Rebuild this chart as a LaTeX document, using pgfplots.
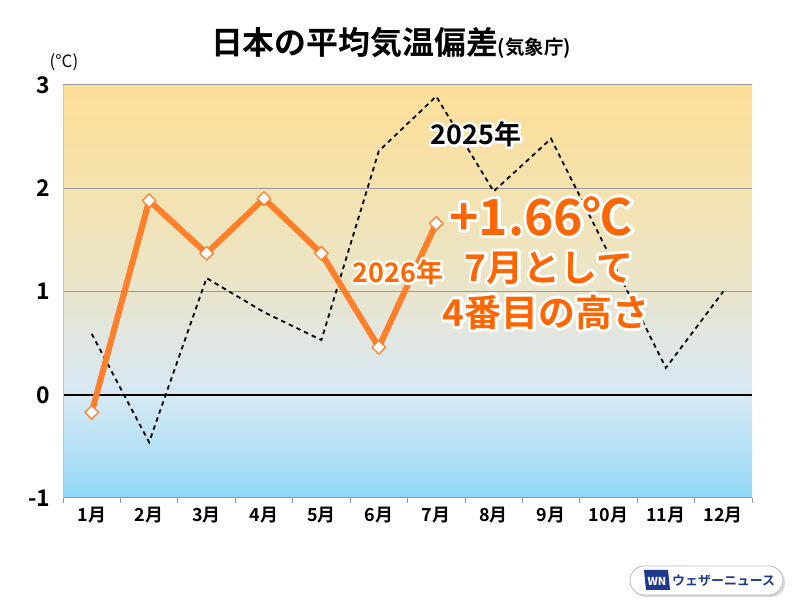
\documentclass[border=0pt]{standalone}
\usepackage{pgfplots}
\pgfplotsset{compat=1.18}
\usepackage{fontspec}
\setmainfont{Noto Sans CJK JP}[BoldFont={Noto Sans CJK JP Bold}]
\usetikzlibrary{calc}

\definecolor{orgline}{HTML}{FF7F2A}
\definecolor{orgtext}{HTML}{FF6600}
\definecolor{wnblue}{HTML}{1E3A8F}
\definecolor{gridgray}{HTML}{9A9A9A}
\definecolor{c0}{HTML}{8FD6F6}
\definecolor{c1}{HTML}{B7E1F5}
\definecolor{c2}{HTML}{D7E8F4}
\definecolor{c3}{HTML}{DFE6E4}
\definecolor{c4}{HTML}{E9E5CC}
\definecolor{c5}{HTML}{F4E2AE}
\definecolor{c6}{HTML}{FCDE98}
\pgfdeclareverticalshading{bgshade}{100bp}{color(0bp)=(c0);color(25bp)=(c0);color(31.25bp)=(c1);color(37.5bp)=(c2);color(43.75bp)=(c3);color(50bp)=(c4);color(62.5bp)=(c5);color(75bp)=(c6);color(100bp)=(c6)}

% text with a white outline: a stroked white copy under the coloured text
\newcommand\halo[5]{%
  \node[font=#2,text=white,inner sep=0pt] at (#1) {\special{pdf:literal direct 2 Tr #4 w 1 j 1 1 1 RG}#5\special{pdf:literal direct 0 Tr}};
  \node[font=#2,text=#3,inner sep=0pt] at (#1) {#5};}

\begin{document}
\begin{tikzpicture}
\useasboundingbox (0,0) rectangle (800bp,600bp);
\fill[white] (0,0) rectangle (800bp,600bp);
\begin{axis}[
  at={(63bp,102bp)}, anchor=south west,
  scale only axis, width=689bp, height=413bp,
  xmin=0.5, xmax=12.5, ymin=-1, ymax=3,
  axis background/.style={shading=bgshade},
  axis line style={draw=none},
  xtick={1,2,3,4,5,6,7,8,9,10,11,12},
  xticklabels={1月,2月,3月,4月,5月,6月,7月,8月,9月,10月,11月,12月},
  xtick pos=bottom,
  x tick label style={font=\bfseries\fontsize{18}{18}\selectfont, yshift=-6bp},
  ytick={-1,0,1,2,3},
  yticklabels={-1,0,1,2,3},
  ytick pos=left,
  y tick label style={font=\bfseries\fontsize{23}{23}\selectfont, xshift=-9bp},
  major tick length=0pt,
  ymajorgrids, grid style={gridgray, line width=1bp},
  extra y ticks={0}, extra y tick labels={},
  extra y tick style={grid style={black, line width=1.8bp}},
  extra x ticks={0.5,1.5,2.5,3.5,4.5,5.5,6.5,7.5,8.5,9.5,10.5,11.5,12.5},
  extra x tick labels={},
  extra x tick style={major tick length=5bp, tick align=outside, tick style={gridgray, line width=0.8bp}},
  clip=false,
]
\draw[gray!45, line width=0.8bp] (rel axis cs:0,0) -- (rel axis cs:0,1);
\addplot[black, line width=1.8bp, dash pattern=on 4.5bp off 4bp, mark=none] coordinates {
  (1,0.59) (2,-0.46) (3,1.13) (4,0.80) (5,0.53) (6,2.36)
  (7,2.89) (8,1.97) (9,2.48) (10,1.37) (11,0.26) (12,1.00)};
\addplot[orgline, line width=6bp, line join=round, mark=square*, mark size=4.8bp,
  mark options={rotate=45, fill=white, draw=orgline, line width=1.3bp, solid}] coordinates {
  (1,-0.17) (2,1.88) (3,1.37) (4,1.90) (5,1.37) (6,0.46) (7,1.66)};
\end{axis}
% title
\node[font=\bfseries\fontsize{32}{32}\selectfont, inner sep=0pt] at (391bp,557bp)
  {日本の平均気温偏差{\fontsize{19.5}{19.5}\selectfont(気象庁)}};
\node[font=\fontsize{17}{17}\selectfont, inner sep=0pt] at (64bp,538bp) {(°C)};
% annotations
\halo{476bp,466bp}{\bfseries\fontsize{27}{27}\selectfont}{black}{5}{2025年}
\halo{398bp,328bp}{\bfseries\fontsize{27}{27}\selectfont}{orgtext}{5}{2026年}
\halo{541bp,384bp}{\bfseries\fontsize{50}{50}\selectfont}{orgtext}{6}{+1.66℃}
\halo{549bp,332bp}{\bfseries\fontsize{37}{37}\selectfont}{orgtext}{6}{7月として}
\halo{546bp,288bp}{\bfseries\fontsize{37}{37}\selectfont}{orgtext}{6}{4番目の高さ}
% logo
\fill[gray!30] (632bp,3bp) [rounded corners=14bp] rectangle (785bp,32bp);
\draw[gray!55, fill=white, rounded corners=14bp, line width=0.8bp] (630bp,5bp) rectangle (783bp,34bp);
\fill[wnblue] (646bp,10bp) -- (670bp,10bp) -- (668bp,30bp) -- (644bp,30bp) -- cycle;
\node[text=white, font=\bfseries\itshape\fontsize{11}{11}\selectfont, inner sep=0pt] at (657bp,19bp) {WN};
\node[text=wnblue, font=\bfseries\fontsize{13}{13}\selectfont, anchor=west, inner sep=0pt] at (672bp,19.5bp) {ウェザーニュース};
\end{tikzpicture}
\end{document}
